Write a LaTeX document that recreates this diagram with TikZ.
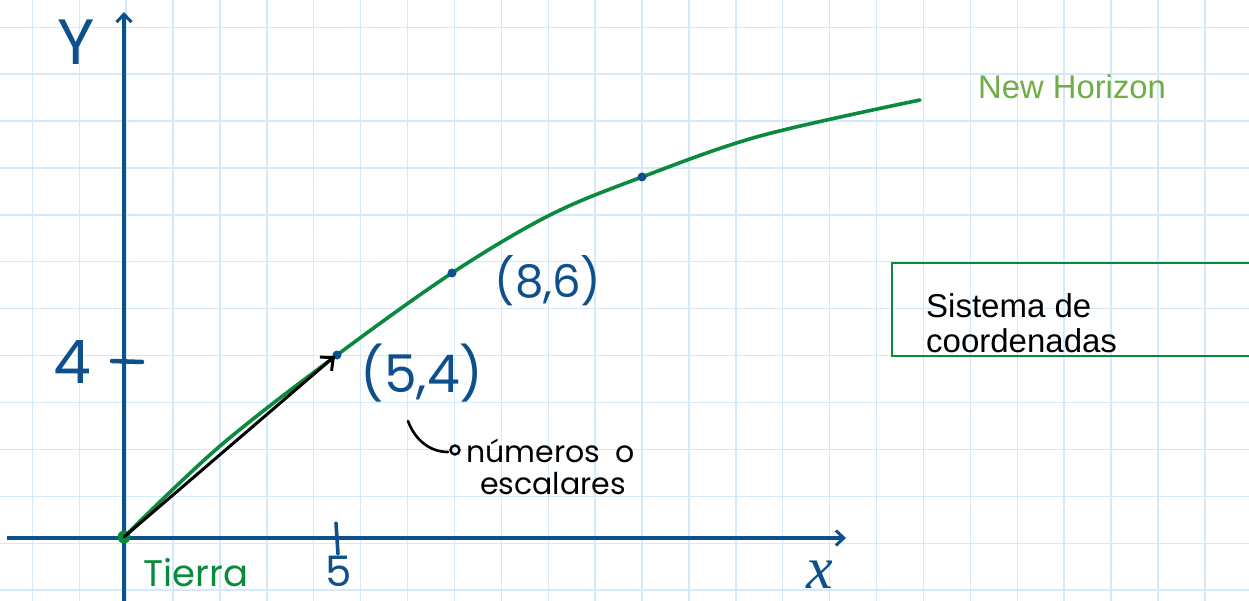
\documentclass[tikz,border=0pt]{standalone}
\usepackage{fontspec}
\setmainfont{Liberation Sans}
\newfontfamily\hand{Poppins}
\newfontfamily\serifx{Liberation Serif}
\usetikzlibrary{arrows.meta}
\definecolor{gridblue}{RGB}{212,234,250}
\definecolor{axisblue}{RGB}{14,80,140}
\definecolor{curvegreen}{RGB}{10,138,60}
\definecolor{labelgreen}{RGB}{112,173,71}
\tikzset{
  gridline/.style={gridblue,line width=1.4pt},
  axisline/.style={axisblue,line width=3.6pt,-{Straight Barb[length=8pt,width=15pt,line width=3pt]}},
  tickline/.style={axisblue,line width=4.5pt,line cap=round},
  handblue/.style={axisblue,inner sep=0pt},
  handblack/.style={black,font=\hand\fontsize{30}{30}\selectfont,inner sep=0pt,anchor=base west},
  pathdot/.style={circle,fill=axisblue,inner sep=0pt,minimum size=9pt},
}
\begin{document}
\begin{tikzpicture}[x=1pt,y=-1pt]
\useasboundingbox (0,0) rectangle (1249,601);
\fill[white] (0,0) rectangle (1249,601);
% grid
\foreach \i in {0,...,26} {\draw[gridline] ({32.3+46.9*\i},0) -- ({32.3+46.9*\i},601);}
\foreach \j in {0,...,12} {\draw[gridline] (0,{27.3+46.9*\j}) -- (1249,{27.3+46.9*\j});}
% axes
\coordinate (ybot) at (124,601);
\coordinate (ytop) at (124,12);
\coordinate (xleft) at (7,538);
\coordinate (xright) at (846,538);
\draw[axisline] (ybot) -- (ytop);
\draw[axisline] (xleft) -- (xright);
% ticks
\coordinate (t4a) at (112,361); \coordinate (t4b) at (142,362);
\draw[tickline] (t4a) -- (t4b);
\coordinate (t5a) at (336,523); \coordinate (t5b) at (338,554);
\draw[axisblue,line width=3.6pt,line cap=round] (t5a) -- (t5b);
% curve
\node[circle,fill=curvegreen,inner sep=0pt,minimum size=13pt] (o) at (124,537) {};
\coordinate (p54) at (337,355);
\coordinate (p86) at (452,273);
\coordinate (p3) at (642,177);
\coordinate (pend) at (920,100);
\draw[curvegreen,line width=3.6pt,line cap=round] plot[smooth,tension=0.55] coordinates {(124,537) (220,446) (337,355) (452,273) (550,215) (642,177) (760,136) (920,100)};
\node[pathdot] (d54) at (p54) {};
\node[pathdot] (d86) at (p86) {};
\node[pathdot] (d3) at (p3) {};
% vector
\draw[black,line width=3pt,line cap=round,-{Straight Barb[length=10pt,width=18pt,line width=3pt]}] (o.center) -- (335,356);
% labels
\node[handblue,font=\hand\fontsize{64}{64}\selectfont] (ylab) at (76,42) {Y};
\node[handblue,font=\hand\fontsize{60}{60}\selectfont] (four) at (72,362) {4};
\node[handblue,font=\hand\fontsize{42}{42}\selectfont] (five) at (339,571) {5};
\node[axisblue,inner sep=0pt,font=\serifx\itshape\fontsize{60}{60}\selectfont] (xlab) at (820,575) {x};
\node[curvegreen,inner sep=0pt,font=\hand\fontsize{37}{37}\selectfont] (tierra) at (196,573) {Tierra};
\node[handblue,font=\hand\fontsize{52}{52}\selectfont] (l54) at (422,373) {(5,4)};
\node[handblue,font=\hand\fontsize{45}{45}\selectfont] (l86) at (548,281) {(8,6)};
% note
\coordinate (n1) at (408,421);
\coordinate (n2) at (448,452);
\draw[black,line width=2.6pt,line cap=round] (n1) .. controls (415,440) and (430,452) .. (n2);
\node[circle,draw=black,line width=2.4pt,inner sep=0pt,minimum size=9pt] (nc) at (455,450) {};
\node[handblack] (num) at (466,462) {números\hspace{0.5em}o};
\node[handblack] (esc) at (480,494) {escalares};
% box
\coordinate (bx1) at (892,263);
\coordinate (bx2) at (1252,356);
\draw[curvegreen,line width=2.4pt] (bx2 |- bx1) -- (bx1) -- (bx1 |- bx2) -- (bx2);
\node[black,anchor=base west,inner sep=0pt,align=left,font=\fontsize{33}{34}\selectfont] (sis) at (926,352) {Sistema de\\coordenadas};
\node[labelgreen,anchor=base west,inner sep=0pt,font=\fontsize{32.8}{33}\selectfont] (nh) at (978,99) {New Horizon};
\end{tikzpicture}
\end{document}
